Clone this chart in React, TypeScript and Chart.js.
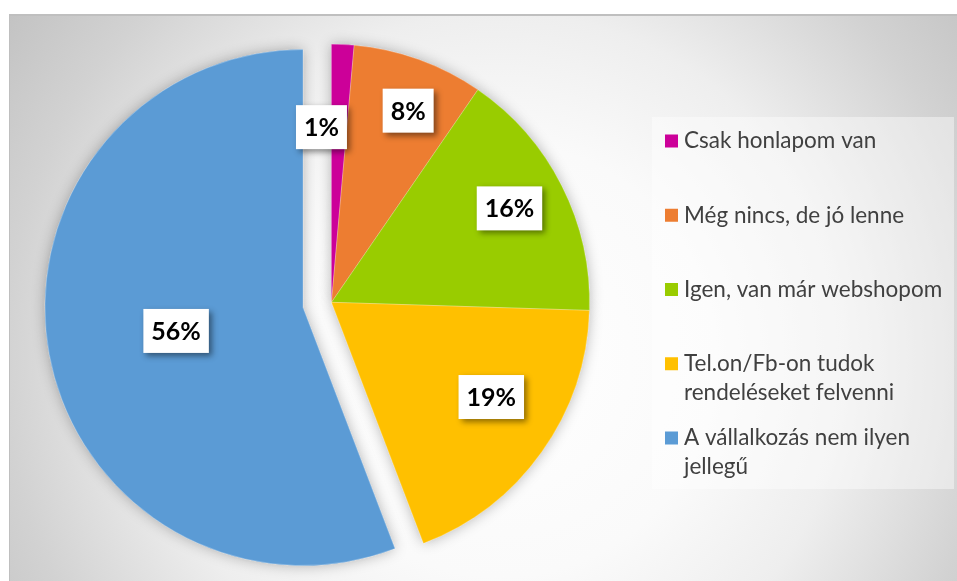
import React, { useEffect, useRef } from "react";
import { Chart, registerables } from "chart.js";

Chart.register(...registerables);

// ---- data ----
const categories = [
  "Csak honlapom van",
  "Még nincs, de jó lenne",
  "Igen, van már webshopom",
  "Tel.on/Fb-on tudok rendeléseket felvenni",
  "A vállalkozás nem ilyen jellegű",
];
const shares = [1.4, 8.2, 15.9, 18.7, 55.8];
const sliceColors = ["#CC0099", "#ED7D31", "#99CC00", "#FFC000", "#5B9BD5"];
const explodePx = [0, 0, 0, 0, 29];
const labelRadiusFrac = [0.68, 0.8, 0.78, 0.72, 0.5];
const labelAngleShiftDeg = [-5.8, 2, -1, -4.8, 0];

const W = 957;
const H = 581;
const CX = 331.5;
const CY = 302.3;

const backgroundPlugin = {
  id: "bgFrame",
  beforeDraw(chart: any) {
    const ctx = chart.ctx as CanvasRenderingContext2D;
    ctx.save();
    ctx.fillStyle = "#ffffff";
    ctx.fillRect(0, 0, W, H);
    const g = ctx.createRadialGradient(500, 360, 0, 500, 360, 620);
    g.addColorStop(0, "#ffffff");
    g.addColorStop(0.35, "#fafafa");
    g.addColorStop(0.56, "#eeeeee");
    g.addColorStop(0.8, "#d2d2d2");
    g.addColorStop(1, "#c0c0c0");
    ctx.fillStyle = g;
    ctx.fillRect(9, 14, W - 9, H - 14);
    ctx.fillStyle = "#bfbfbf";
    ctx.fillRect(9, 14, W - 9, 2);
    ctx.fillRect(9, 14, 1, H - 14);
    ctx.restore();
  },
};

function explodeShift(arc: any, i: number) {
  const mid = (arc.startAngle + arc.endAngle) / 2;
  const d = explodePx[i] || 0;
  return { dx: Math.cos(mid) * d, dy: Math.sin(mid) * d };
}

const explodePlugin = {
  id: "explodeSlices",
  afterUpdate(chart: any) {
    const meta = chart.getDatasetMeta(0);
    meta.data.forEach((arc: any, i: number) => {
      if (arc.__wrapped) return;
      const orig = arc.draw.bind(arc);
      arc.draw = (ctx: CanvasRenderingContext2D, area: any) => {
        const s = explodeShift(arc, i);
        ctx.save();
        ctx.translate(s.dx, s.dy);
        orig(ctx, area);
        ctx.restore();
      };
      arc.__wrapped = true;
    });
  },
};

const shadowPlugin = {
  id: "pieShadow",
  beforeDatasetsDraw(chart: any) {
    const ctx = chart.ctx as CanvasRenderingContext2D;
    const meta = chart.getDatasetMeta(0);
    ctx.save();
    ctx.shadowColor = "rgba(0,0,0,0.28)";
    ctx.shadowBlur = 14;
    meta.data.forEach((arc: any) => arc.draw(ctx));
    ctx.restore();
  },
};

const labelPlugin = {
  id: "boxLabels",
  afterDatasetsDraw(chart: any) {
    const ctx = chart.ctx as CanvasRenderingContext2D;
    const meta = chart.getDatasetMeta(0);
    const data = chart.data.datasets[0].data as number[];
    const total = data.reduce((a, b) => a + b, 0);
    ctx.save();
    ctx.font = "bold 25px Lato";
    meta.data.forEach((arc: any, i: number) => {
      const p = arc.getProps(["x", "y", "startAngle", "endAngle", "outerRadius"], true);
      const mid = (p.startAngle + p.endAngle) / 2;
      const s = explodeShift(arc, i);
      const a = mid + (labelAngleShiftDeg[i] * Math.PI) / 180;
      const r = labelRadiusFrac[i] * p.outerRadius;
      const lx = p.x + s.dx + Math.cos(a) * r;
      const ly = p.y + s.dy + Math.sin(a) * r;
      const text = `${Math.round((data[i] / total) * 100)}%`;
      const tw = ctx.measureText(text).width;
      const bw = tw + 16;
      const bh = 44;
      ctx.save();
      ctx.shadowColor = "rgba(0,0,0,0.45)";
      ctx.shadowBlur = 6;
      ctx.shadowOffsetX = 3;
      ctx.shadowOffsetY = 3;
      ctx.fillStyle = "#ffffff";
      ctx.fillRect(lx - bw / 2, ly - bh / 2, bw, bh);
      ctx.restore();
      ctx.fillStyle = "#000000";
      ctx.textAlign = "center";
      ctx.textBaseline = "middle";
      ctx.fillText(text, lx, ly + 1);
    });
    ctx.restore();
  },
};

function wrap(ctx: CanvasRenderingContext2D, text: string, maxW: number) {
  const words = text.split(" ");
  const lines: string[] = [];
  let cur = "";
  for (const w of words) {
    const t = cur ? cur + " " + w : w;
    if (ctx.measureText(t).width > maxW && cur) {
      lines.push(cur);
      cur = w;
    } else cur = t;
  }
  if (cur) lines.push(cur);
  return lines;
}

const legendPlugin = {
  id: "sideLegend",
  afterDraw(chart: any) {
    const ctx = chart.ctx as CanvasRenderingContext2D;
    const labels = chart.data.labels as string[];
    const colors = chart.data.datasets[0].backgroundColor as string[];
    ctx.save();
    ctx.fillStyle = "rgba(255,255,255,0.42)";
    ctx.fillRect(652, 117, 302, 372);
    ctx.font = "22.5px Lato";
    ctx.textBaseline = "middle";
    ctx.textAlign = "left";
    labels.forEach((lab, i) => {
      const cy = 141 + i * 74.25;
      ctx.fillStyle = colors[i];
      ctx.fillRect(665, cy - 6.5, 13, 13);
      ctx.fillStyle = "#404040";
      const lines = wrap(ctx, lab, 262);
      lines.forEach((ln, j) => ctx.fillText(ln, 684, cy + j * 28.5));
    });
    ctx.restore();
  },
};

export default function App() {
  const ref = useRef<HTMLCanvasElement | null>(null);
  useEffect(() => {
    if (!ref.current) return;
    const chart = new Chart(ref.current, {
      type: "pie",
      data: {
        labels: categories,
        datasets: [
          {
            data: shares,
            backgroundColor: sliceColors,
            borderColor: "rgba(255,255,255,0.5)",
            borderWidth: 0.5,
          } as any,
        ],
      },
      options: {
        responsive: false,
        animation: false,
        radius: 258,
        layout: {
          padding: { left: 0, right: W - 2 * CX, top: 2 * CY - H, bottom: 0 },
        },
        plugins: {
          legend: { display: false },
          tooltip: { enabled: false },
        },
        events: [],
      } as any,
      plugins: [backgroundPlugin, explodePlugin, shadowPlugin, labelPlugin, legendPlugin],
    });
    return () => chart.destroy();
  }, []);
  return (
    <div style={{ position: "fixed", left: 0, top: 0, width: W, height: H }}>
      <canvas ref={ref} width={W} height={H} style={{ width: W, height: H, display: "block" }} />
    </div>
  );
}
